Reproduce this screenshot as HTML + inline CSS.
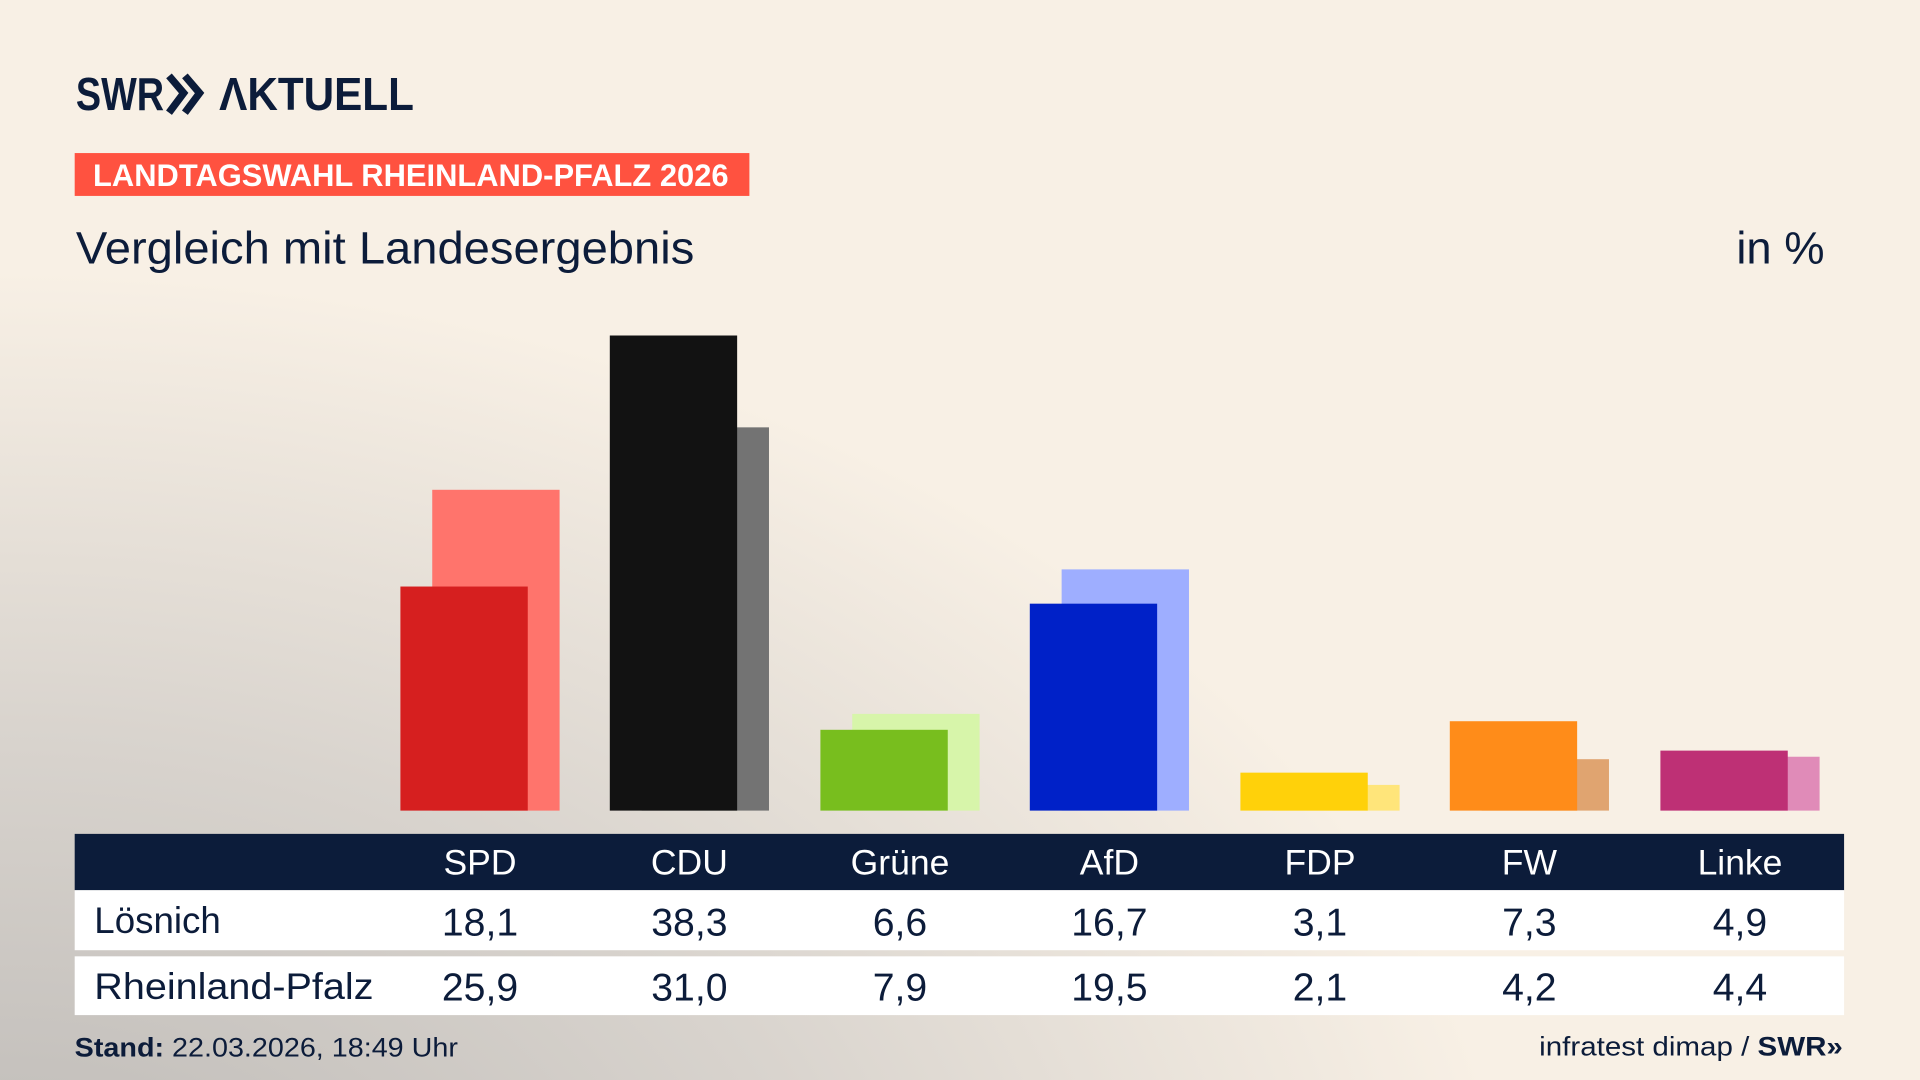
<!DOCTYPE html>
<html><head><meta charset="utf-8"><style>
html,body{margin:0;padding:0;width:1920px;height:1080px;overflow:hidden}
body{background:#f8f0e5}
svg{display:block}
text{font-family:"Liberation Sans Narrow","Liberation Sans",sans-serif;fill:#0c1c3a}
</style></head><body>
<svg width="1920" height="1080" viewBox="0 0 1568 882" preserveAspectRatio="none">
<defs>
<radialGradient id="bg" cx="0" cy="1" r="1.1" gradientTransform="scale(1,1.2)">
<stop offset="0" stop-color="#b9b6b3"/>
<stop offset="0.4" stop-color="#d9d4ce"/>
<stop offset="0.72" stop-color="#f8f0e5"/>
<stop offset="1" stop-color="#f8f0e5"/>
</radialGradient>
</defs>
<rect width="1568" height="882" fill="#f8f0e5"/>
<rect width="1568" height="882" fill="url(#bg)"/>
<text x="62" y="90" font-size="38" font-weight="bold" textLength="72" lengthAdjust="spacingAndGlyphs">SWR</text>
<path d="M138 62 L150 76 L138 92 M151 62 L163 76 L151 92" fill="none" stroke="#0c1c3a" stroke-width="6"/>
<text x="179" y="90" font-size="38" font-weight="bold" textLength="159" lengthAdjust="spacingAndGlyphs">ΛKTUELL</text>
<rect x="61" y="125" width="551" height="35" fill="#ff5240"/>
<text x="76" y="152" font-size="26" font-weight="bold" style="fill:#fff" textLength="519" lengthAdjust="spacingAndGlyphs">LANDTAGSWAHL RHEINLAND-PFALZ 2026</text>
<text x="62" y="215" font-size="37" textLength="505" lengthAdjust="spacingAndGlyphs">Vergleich mit Landesergebnis</text>
<text x="1490" y="215" font-size="37" text-anchor="end">in %</text>
<g>
<rect x="353" y="400" width="104" height="262" fill="#ff746c"/><rect x="327" y="479" width="104" height="183" fill="#d61f1f"/>
<rect x="524" y="349" width="104" height="313" fill="#737373"/><rect x="498" y="274" width="104" height="388" fill="#121212"/>
<rect x="696" y="583" width="104" height="79" fill="#d7f5aa"/><rect x="670" y="596" width="104" height="66" fill="#78be1e"/>
<rect x="867" y="465" width="104" height="197" fill="#9eaeff"/><rect x="841" y="493" width="104" height="169" fill="#0021c8"/>
<rect x="1039" y="641" width="104" height="21" fill="#ffe57a"/><rect x="1013" y="631" width="104" height="31" fill="#ffd10a"/>
<rect x="1210" y="620" width="104" height="42" fill="#e0a470"/><rect x="1184" y="589" width="104" height="73" fill="#ff8c19"/>
<rect x="1382" y="618" width="104" height="44" fill="#e08bb8"/><rect x="1356" y="613" width="104" height="49" fill="#be3075"/>
</g>
<rect x="61" y="681" width="1445" height="46" fill="#0c1c3a"/>
<rect x="61" y="727" width="1445" height="49" fill="#fff"/>
<rect x="61" y="781" width="1445" height="48" fill="#fff"/>
<g font-size="29" text-anchor="middle">
<text x="392" y="714" style="fill:#fff">SPD</text><text x="563" y="714" style="fill:#fff">CDU</text><text x="735" y="714" style="fill:#fff">Grüne</text><text x="906" y="714" style="fill:#fff">AfD</text><text x="1078" y="714" style="fill:#fff">FDP</text><text x="1249" y="714" style="fill:#fff">FW</text><text x="1421" y="714" style="fill:#fff">Linke</text>
</g>
<text x="77" y="762" font-size="30">Lösnich</text>
<text x="77" y="816" font-size="30" textLength="228" lengthAdjust="spacingAndGlyphs">Rheinland-Pfalz</text>
<g font-size="32" text-anchor="middle">
<text x="392" y="764">18,1</text><text x="563" y="764">38,3</text><text x="735" y="764">6,6</text><text x="906" y="764">16,7</text><text x="1078" y="764">3,1</text><text x="1249" y="764">7,3</text><text x="1421" y="764">4,9</text>
<text x="392" y="817">25,9</text><text x="563" y="817">31,0</text><text x="735" y="817">7,9</text><text x="906" y="817">19,5</text><text x="1078" y="817">2,1</text><text x="1249" y="817">4,2</text><text x="1421" y="817">4,4</text>
</g>
<text x="61" y="863" font-size="22" textLength="313" lengthAdjust="spacingAndGlyphs"><tspan font-weight="bold">Stand:</tspan> 22.03.2026, 18:49 Uhr</text>
<text x="1257" y="862" font-size="22" textLength="248" lengthAdjust="spacingAndGlyphs">infratest dimap / <tspan font-weight="bold">SWR»</tspan></text>
</svg>
</body></html>
